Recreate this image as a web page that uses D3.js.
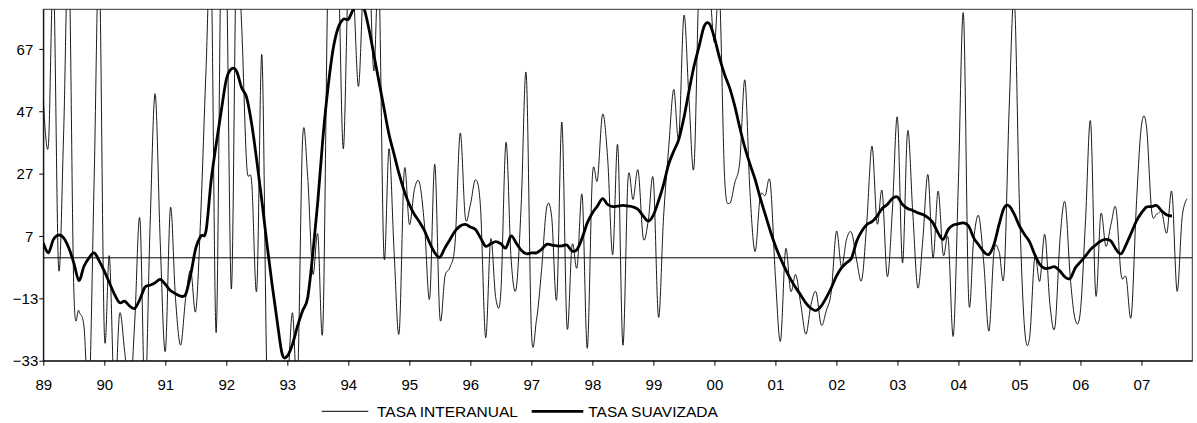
<!DOCTYPE html>
<html><head><meta charset="utf-8">
<script src="https://cdn.jsdelivr.net/npm/d3@7/dist/d3.min.js"></script>
<style>
body{margin:0;background:#fff}
text{font-family:"Liberation Sans",Arial,sans-serif;fill:#000}
</style></head>
<body><svg id="chart" width="1197" height="423"></svg>
<script>
// Monthly data, Jan 1989 onwards
const yearLabels = ["89","90","91","92","93","94","95","96","97","98","99","00","01","02","03","04","05","06","07"];
const yTicks = [-33,-13,7,27,47,67];
const seriesNames = ["TASA INTERANUAL","TASA SUAVIZADA"];
const tasaInteranual = [
50.8,36,90,-3,40,100,-10,-17,-22,-45,25,95,-24,0.5,-45,-18,-30,-45,-20,12.5,
-45,10,52.6,5,-30,16,-13,-28,-13,-4,-17,15,60,95,-24,100,95,-10,100,75,
30,24,-10,65,-40,-50,-55,-50,-42,-17.6,-40,38,26,-5,7.5,-22,90,100,95,35,
90,85,55,90,100,60,90,0.6,35,2,-24,28,10.7,22,24,10,-13,30,-19,-6,
-3,5,40,13,17,25,16,-25.6,6,-13,-11,37,0,-10,17,58.8,-23,-20,-4,16,
13,-13,43.5,-22,4,-3,20,-29,26,25,46,32,1,36,-28,25,18.7,28,6.4,12,
25,-19,13,35,54,38.5,77.7,51,29.4,90,95,88,69,85,26,17.5,24,31,57,21,
2,19.5,20,24,-6,-26.7,2.7,-10.7,-5.4,-15,-24.5,-15,-11,-21.5,-17,-10.7,8.5,-3,6,8,
-1,-7,12,35.8,11,21.4,-6,15,45,-1.6,40.6,15,-9.6,6,26.7,0,21.4,1,6,-25,
25,78,-12.8,6,13.4,-2,-23.5,2,2,-5,49,83,17,-22.5,-25.6,0,-7.5,7.5,-15,-22,
6.4,17.7,-6.4,-20,-17,12,43.6,-11.8,14,3.7,10.7,15.8,-5.4,-6.4,-18.7,17,42.5,42,15,14,
14.5,8,21,-10.7,13,19
];
const tasaSuavizada = [
4.8,1.6,5.9,7.3,6.4,3.2,-1.6,-7.3,-2.7,0,1.6,-1,-4.3,-8,-11.7,-14.4,-13.9,-15.5,-16.2,-13.3,
-9.4,-8.8,-8,-6.9,-8.5,-10.5,-11.5,-12.3,-11.7,-5.3,3.2,7,8.6,24.6,36.4,47.1,57.2,60.6,59.9,54.6,
51.4,42.8,31,18.2,4.3,-8.5,-20.3,-31,-31.5,-27.8,-21.9,-17,-12.8,1.1,18.2,38.5,54.6,66.9,73.8,76.5,
76.5,79.7,80.8,80.3,73.8,65.3,56.7,48.1,39.6,33.2,26.8,21.4,17.1,13.9,11.5,8.6,4.8,1.6,0.2,3.2,
5.9,8.6,10.2,10.7,9.9,9.1,6.4,3.7,4.5,5.2,4.5,3.2,7,4.8,2.4,1.3,1.6,1.6,2.7,4.3,
4.1,3.8,3.8,4.1,2.2,2.7,6.4,11.2,14.4,16.6,19,17.1,16.4,16.6,16.8,16.6,16.3,15.5,13.4,11.8,
13.7,18.2,23.5,30,34.2,38,44.9,53.5,61.5,67.9,74.3,75.1,70.6,64.2,58.8,54.5,48.7,41.7,35.3,30,
25.2,19.3,13.9,8.6,3.8,-0.2,-3.7,-6.9,-9.6,-12,-14.5,-16.2,-16.9,-15.5,-12.8,-9.6,-5.9,-3.2,-1.6,0,
5.4,8.6,10.7,11.6,13.4,15.8,17.1,19,19.5,17.1,15.8,15.2,14.4,13.9,12.9,11.2,8,5.9,9.1,10.5,
10.9,11.2,10.2,6.4,4.1,1.9,1.1,4.3,10.7,16.1,16.6,13.9,10.2,7.5,5.1,1.1,-2.1,-3.4,-3.2,-2.9,
-4.3,-6.2,-6.6,-3.2,-1.3,0.6,2.7,4.1,5.4,5.9,5.4,2.7,1.3,4.3,8,11.8,14.4,16.3,16.4,16.8,
15,13.7,13.4
];

const L = 43.3, R = 1192.3, T = 9.3, B = 360.7;
const svg = d3.select("#chart");
const x = d3.scaleLinear().domain([0, 226]).range([L, R]);
const y = d3.scaleLinear().domain([-33, 79.7]).range([B, T]);

svg.append("defs").append("clipPath").attr("id","clip")
  .append("rect").attr("x",L).attr("y",T).attr("width",R-L).attr("height",B-T);

// plot border
svg.append("rect").attr("x",L).attr("y",T).attr("width",R-L).attr("height",B-T)
  .attr("fill","none").attr("stroke","#333").attr("stroke-width",1);

// zero line
svg.append("line").attr("x1",L).attr("x2",R).attr("y1",y(0)).attr("y2",y(0))
  .attr("stroke","#000").attr("stroke-width",1);

const g = svg.append("g").attr("clip-path","url(#clip)");
const curve = d3.curveCardinal.tension(0);
const lineGen = d3.line().x((d,i)=>x(i)).y(d=>y(d)).curve(curve);

g.append("path").datum(tasaInteranual).attr("d",lineGen)
  .attr("fill","none").attr("stroke","#000").attr("stroke-width",0.9);
g.append("path").datum(tasaSuavizada).attr("d",lineGen)
  .attr("fill","none").attr("stroke","#000").attr("stroke-width",2.8).attr("stroke-linejoin","round");

// Y axis
const yAxis = d3.axisLeft(y).tickValues(yTicks).tickSize(4).tickSizeOuter(0).tickFormat(d3.format("d"));
const ya = svg.append("g").attr("transform",`translate(${L},0)`).call(yAxis);
ya.select(".domain").attr("stroke","#000");
ya.selectAll(".tick line").attr("stroke","#000");
ya.selectAll(".tick text").attr("font-size",15).attr("x",-5).attr("dy","0.35em")
  .attr("dx", d => d >= 0 ? -5 : 0);

// X axis
const xTickVals = yearLabels.map((d,i)=>i*12);
const xAxis = d3.axisBottom(x).tickValues(xTickVals).tickSize(5).tickSizeOuter(0)
  .tickFormat((d,i)=>yearLabels[i]);
const xa = svg.append("g").attr("transform",`translate(0,${B})`).call(xAxis);
xa.select(".domain").attr("stroke","#000");
xa.selectAll(".tick line").attr("stroke","#000");
xa.selectAll(".tick text").attr("font-size",15).attr("y",19).attr("dy","0.71em");
svg.selectAll(".tick text").attr("font-family",'"Liberation Sans",Arial,sans-serif').attr("fill","#000");

// Legend
const lg = svg.append("g");
lg.append("line").attr("x1",321.7).attr("x2",368.3).attr("y1",411.3).attr("y2",411.3)
  .attr("stroke","#000").attr("stroke-width",1);
lg.append("text").attr("x",377).attr("y",417.2).attr("font-size",15.5).text(seriesNames[0]);
lg.append("line").attr("x1",531.7).attr("x2",583.3).attr("y1",411.3).attr("y2",411.3)
  .attr("stroke","#000").attr("stroke-width",2.8);
lg.append("text").attr("x",588.3).attr("y",417.2).attr("font-size",15.5).text(seriesNames[1]);
</script>
</body></html>
